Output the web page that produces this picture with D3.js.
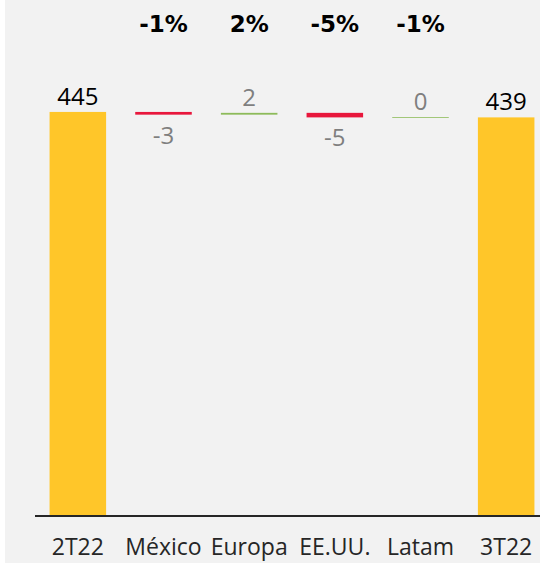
<!DOCTYPE html>
<html>
<head>
<meta charset="utf-8">
<script src="https://cdn.jsdelivr.net/npm/d3@7"></script>
<style>
  html, body { margin: 0; padding: 0; background: #ffffff; }
  svg { display: block; }
</style>
</head>
<body>
<svg id="chart" width="540" height="563"></svg>
<script>
// data
var categories = ["2T22", "México", "Europa", "EE.UU.", "Latam", "3T22"];
var values = [445, -3, 2, -5, 0.3, 439];   // totals at the ends, changes between
var isTotal = [true, false, false, false, false, true];
var pctLabels = ["", "-1%", "2%", "-5%", "-1%", ""];

var svg = d3.select("#chart");
var W = 540, H = 563;

// grey panel, thin white strip on the left
svg.append("rect")
    .attr("x", 5).attr("y", 0)
    .attr("width", W - 5).attr("height", H)
    .attr("fill", "#f2f2f2");

var x = d3.scaleBand()
    .domain(categories)
    .range([35, 549])
    .paddingInner(0.34)
    .paddingOuter(0.17);

var y = d3.scaleLinear()
    .domain([0, 500])
    .range([516, 62]);

// running waterfall positions
var running = 0;
var steps = categories.map(function (c, i) {
    var d = { cat: c, value: values[i], total: isTotal[i], pct: pctLabels[i] };
    if (d.total) {
        d.start = 0;
        d.end = values[i];
        running = values[i];
    } else {
        d.start = running;
        d.end = running + values[i];
        running = d.end;
    }
    d.lo = Math.min(d.start, d.end);
    d.hi = Math.max(d.start, d.end);
    return d;
});

function barColor(d) {
    if (d.total) return "#ffc629";
    return d.value < 0 ? "#e8173c" : "#8dbb5a";
}

svg.selectAll("rect.bar")
    .data(steps)
    .enter().append("rect")
    .attr("class", "bar")
    .attr("x", function (d) { return x(d.cat); })
    .attr("y", function (d) { return y(d.hi); })
    .attr("width", x.bandwidth())
    .attr("height", function (d) { return Math.max(y(d.lo) - y(d.hi), 0.8); })
    .attr("fill", barColor);

// value labels: totals and gains above, losses below
svg.selectAll("text.val")
    .data(steps)
    .enter().append("text")
    .attr("class", "val")
    .attr("x", function (d) { return x(d.cat) + x.bandwidth() / 2; })
    .attr("y", function (d) {
        if (!d.total && d.value < 0) return y(d.lo) + 29;
        return y(d.hi) - 7;
    })
    .attr("text-anchor", "middle")
    .attr("font-family", "'Open Sans', sans-serif")
    .attr("font-size", 24)
    .attr("fill", function (d) { return d.total ? "#000000" : "#7f7f7f"; })
    .text(function (d) { return String(Math.round(d.value)); });

// percentage change on top
svg.selectAll("text.pct")
    .data(steps.filter(function (d) { return d.pct !== ""; }))
    .enter().append("text")
    .attr("class", "pct")
    .attr("x", function (d) { return x(d.cat) + x.bandwidth() / 2; })
    .attr("y", 32)
    .attr("text-anchor", "middle")
    .attr("font-family", "'DejaVu Sans', sans-serif")
    .attr("font-weight", "bold")
    .attr("font-size", 23)
    .attr("fill", "#000000")
    .text(function (d) { return d.pct; });

// category axis
var axis = svg.append("g")
    .attr("transform", "translate(0," + y(0) + ")")
    .call(d3.axisBottom(x).tickSize(0).tickPadding(23));

axis.select(".domain")
    .attr("d", "M35,0H540")
    .attr("stroke", "#262626")
    .attr("stroke-width", 2);

axis.selectAll(".tick text")
    .attr("font-family", "'Open Sans', sans-serif")
    .attr("font-size", 23)
    .attr("fill", "#262626");
</script>
</body>
</html>
